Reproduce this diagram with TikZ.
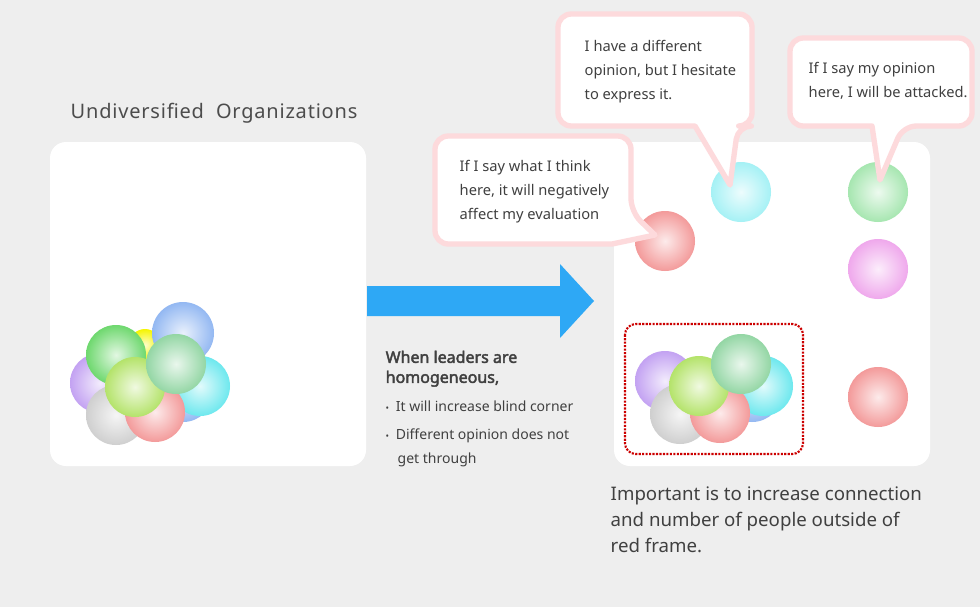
\documentclass[tikz,border=0pt]{standalone}
\usepackage{fontspec}
\setmainfont{Noto Sans}
\newfontfamily\boldish{Noto Sans}[FakeBold=2.5]
\newfontfamily\titlefont{Noto Sans}[LetterSpace=4]
\begin{document}
\begin{tikzpicture}[x=0.75pt,y=-0.75pt,
  panel/.style={fill=white,rounded corners=12pt,draw=none},
  bubble/.style={fill=white,draw={rgb,255:red,253;green,218;blue,220},line width=4pt,rounded corners=10pt,line join=round},
  says/.style={font=\fontsize{11}{18}\selectfont,text=black!75,align=left,anchor=north west},
]
\fill[black!6.5] (0,0) rectangle (980,607);
\useasboundingbox (0,0) rectangle (980,607);
\newcommand{\ball}[4]{\shade[inner color=#4!20!white,outer color=#4] (#1,#2) circle (#3);}
\definecolor{cpur}{HTML}{C3A2F2}
\definecolor{cgry}{HTML}{CFCFCF}
\definecolor{cred}{HTML}{F39A9A}
\definecolor{cblu}{HTML}{93B8F2}
\definecolor{ccya}{HTML}{6DE8EE}
\definecolor{cgrn}{HTML}{6ED86E}
\definecolor{clim}{HTML}{B4E36A}
\definecolor{cdg}{HTML}{93D6A4}
\definecolor{cyel}{HTML}{F5F500}
\definecolor{cpink}{HTML}{EFA8EC}
\definecolor{cgrn2}{HTML}{A6E6B0}
\definecolor{ccya2}{HTML}{A5F1F5}

\node[anchor=west,font=\titlefont\fontsize{15}{16}\selectfont,text=black!70] (title) at (66,113) {Undiversified\ \ Organizations};
\fill[panel] (50,142) rectangle (366,466);
\fill[panel] (614,142) rectangle (930,466);

% left cluster
\ball{145}{345}{16}{cyel}
\ball{183}{333}{31}{cblu}
\ball{100}{383}{30}{cpur}
\ball{183}{392}{30}{cblu}
\ball{200}{386}{30}{ccya}
\ball{116}{415}{30}{cgry}
\ball{155}{412}{30}{cred}
\ball{116}{355}{30}{cgrn}
\ball{135}{387}{30}{clim}
\ball{176}{364}{30}{cdg}

% arrow
\fill[fill={rgb,255:red,46;green,168;blue,245}] (367,286) -- (560,286) -- (560,264) -- (594,301) -- (560,338) -- (560,316) -- (367,316) -- cycle;
\node[anchor=north west,font=\boldish\fontsize{12}{15}\selectfont,text=black!75,align=left] (lead) at (381,346) {When leaders are\\homogeneous,};
\node[anchor=north west,font=\fontsize{10.5}{18}\selectfont,text=black!75,align=left] (b1) at (381,396) {{\scriptsize•}\hspace{5pt}It will increase blind corner};
\node[anchor=north west,font=\fontsize{10.5}{18}\selectfont,text=black!75,align=left] (b2) at (381,424) {{\scriptsize•}\hspace{5pt}Different opinion does not\\\hspace*{9pt}get through};

% right balls
\ball{741}{192}{30}{ccya2}
\ball{878}{192}{30}{cgrn2}
\ball{665}{241}{30}{cred}
\ball{878}{269}{30}{cpink}
\ball{878}{397}{30}{cred}
\draw[red!80!black,densely dotted,line width=1.6pt,rounded corners=8pt] (625,324) rectangle (803,454);
\ball{665}{381}{30}{cpur}
\ball{752}{392}{30}{cblu}
\ball{763}{386}{30}{ccya}
\ball{680}{414}{30}{cgry}
\ball{720}{413}{30}{cred}
\ball{699}{386}{30}{clim}
\ball{741}{364}{30}{cdg}

% callouts
\coordinate (t1) at (730,185);
\coordinate (t2) at (880,180);
\coordinate (t3) at (655,235);
\draw[bubble] (558,14) -- (752,14) -- (752,126) -- (738,126) [sharp corners] -- (t1) -- (695,126) [rounded corners=10pt] -- (558,126) -- cycle;
\node[says] (c1) at (580,36) {I have a different\\opinion, but I hesitate\\to express it.};
\draw[bubble] (790,38) -- (972,38) -- (972,126) -- (903,126) [sharp corners] -- (t2) -- (872,126) [rounded corners=10pt] -- (790,126) -- cycle;
\node[says] (c2) at (804,58) {If I say my opinion\\here, I will be attacked.};
\draw[bubble] (435,136) -- (631,136) -- (631,212) [sharp corners] -- (t3) -- (612,244) [rounded corners=10pt] -- (435,244) -- cycle;
\node[says] (c3) at (455,156) {If I say what I think\\here, it will negatively\\affect my evaluation};

\node[anchor=north west,font=\fontsize{14}{19.5}\selectfont,text=black!75,align=left] (bottom) at (606,482) {Important is to increase connection\\and number of people outside of\\red frame.};
\end{tikzpicture}
\end{document}
